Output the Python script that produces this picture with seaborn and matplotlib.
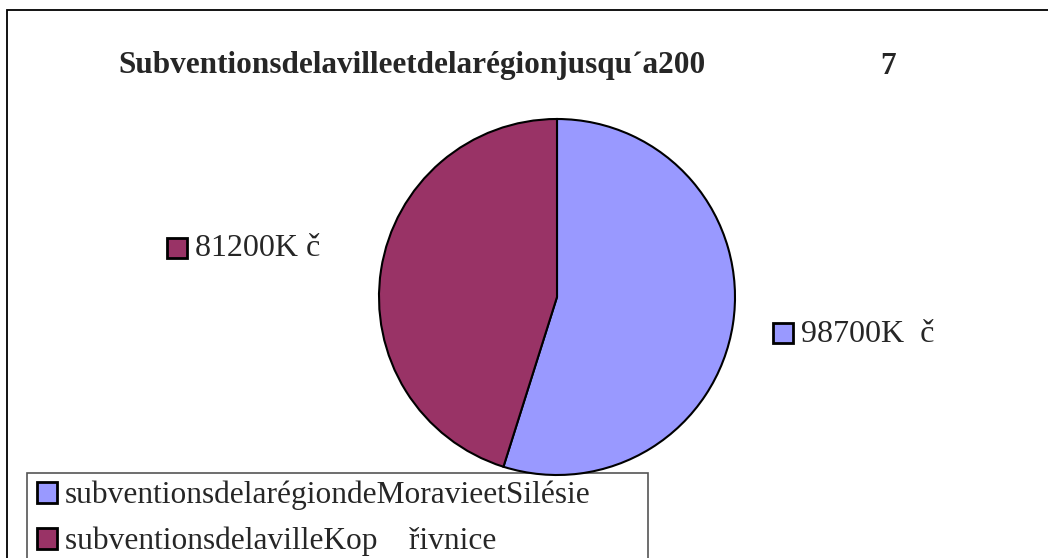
import matplotlib
matplotlib.use("Agg")
import matplotlib.pyplot as plt
import seaborn as sns
from matplotlib.patches import Rectangle, Patch

sns.set_theme(style="white")
plt.rcParams['font.family'] = ['Liberation Serif', 'DejaVu Serif']

title_main = "Subventionsdelavilleetdelarégionjusqu´a200"
title_tail = "7"
categories = ["subventionsdelarégiondeMoravieetSilésie", "subventionsdelavilleKop    řivnice"]
values = [98700, 81200]
value_labels = ["98700K  č", "81200K č"]
colors = ["#9999FF", "#993366"]

W, H = 1048, 558
fig = plt.figure(figsize=(W / 100, H / 100), dpi=100)
fig.patch.set_facecolor("white")

def fx(px):
    return px / W

def fy(py):
    return 1 - py / H

# outer frame
fig.add_artist(Rectangle((fx(7), fy(H + 5)), fx(W + 10), (H - 5) / H,
                         transform=fig.transFigure, fill=False,
                         edgecolor="black", linewidth=1.3))

# pie axes: center (557, 297), radius 178 px
cx, cy, r = 557, 297, 178
ax = fig.add_axes([fx(cx - r), fy(cy + r), 2 * r / W, 2 * r / H])
ax.pie(values, colors=colors, startangle=90, counterclock=False,
       wedgeprops=dict(edgecolor="black", linewidth=1.5))
ax.set_xlim(-1, 1)
ax.set_ylim(-1, 1)
ax.set_aspect("equal")
ax.axis("off")
ax.set_zorder(10)
ax.patch.set_visible(False)

# title
fig.text(fx(118), fy(66), title_main, fontsize=22.5, fontweight="bold",
         ha="left", va="center")
fig.text(fx(880), fy(66), title_tail, fontsize=22.5, fontweight="bold",
         ha="left", va="center")

# data labels with square keys
label_pos = [(783, 333), (177, 248)]
for (px, py), lab, col in zip(label_pos, value_labels, colors):
    fig.add_artist(Rectangle((fx(px - 10), fy(py + 10)), 20 / W, 20 / H,
                             transform=fig.transFigure, facecolor=col,
                             edgecolor="black", linewidth=2))
    fig.text(fx(px + 18), fy(py + 1), lab, fontsize=23, ha="left", va="center")

# legend box
fig.add_artist(Rectangle((fx(27), fy(H + 10)), (648 - 27) / W, (H + 10 - 473) / H,
                         transform=fig.transFigure, facecolor="white",
                         edgecolor="#555555", linewidth=1.2, zorder=4))

handles = [Patch(facecolor=c, edgecolor="black", linewidth=2) for c in colors]
leg = fig.legend(handles, categories, loc="upper left",
                 bbox_to_anchor=(fx(37), fy(481)), frameon=False,
                 fontsize=22.6, handlelength=0.64,
                 handleheight=0.64, handletextpad=0.25, borderpad=0,
                 labelspacing=0.52, borderaxespad=0)
leg.set_zorder(5)

fig.savefig("out.png", dpi=100, facecolor="white")
